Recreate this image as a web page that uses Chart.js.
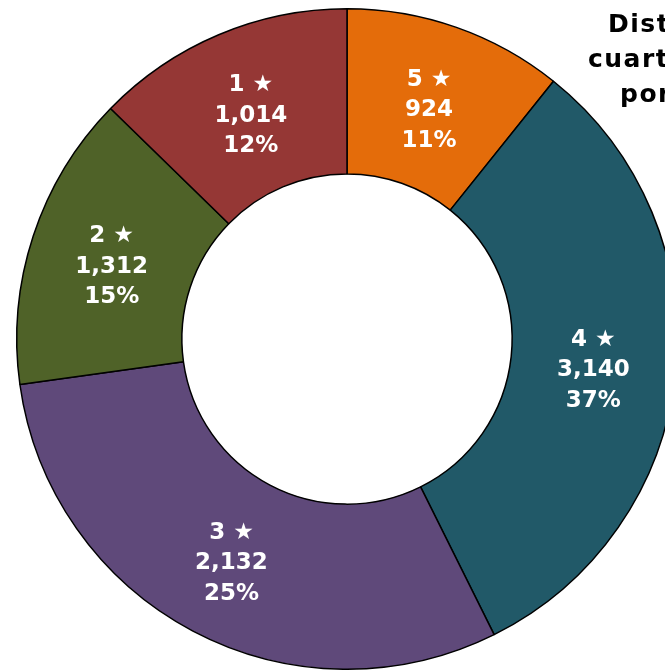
<!DOCTYPE html>
<html>
<head>
<meta charset="utf-8">
<script src="https://cdn.jsdelivr.net/npm/chart.js@4/dist/chart.umd.min.js"></script>
<style>
  html, body { margin: 0; padding: 0; background: #ffffff; overflow: hidden; width: 665px; height: 671px; }
  #wrap { position: absolute; left: 0; top: 0; width: 800px; height: 680px; }
</style>
</head>
<body>
<div id="wrap"><canvas id="c" width="800" height="680"></canvas></div>
<script>
// Data
const categories = ['5 ★', '4 ★', '3 ★', '2 ★', '1 ★'];
const rooms = [924, 3140, 2132, 1312, 1014];
// share of the ring each slice occupies as drawn in the picture (percent)
const drawnShare = [10.75, 31.9, 30.15, 14.5, 12.7];
const titleLines = ['Distribución de', 'cuartos de hoteles', 'por categoría'];

// Styles
const colors = ['#E46C0A', '#215968', '#5F497A', '#4F6228', '#953735'];
const titleStarts = [608, 588, 620];
const titleBaselines = [32, 67, 102];

const total = rooms.reduce((a, b) => a + b, 0);
const fmt = n => n.toLocaleString('en-US');

const labelPlugin = {
  id: 'sliceLabels',
  afterDatasetsDraw(chart) {
    const ctx = chart.ctx;
    const meta = chart.getDatasetMeta(0);
    ctx.save();
    ctx.fillStyle = '#ffffff';
    ctx.font = 'bold 23px "DejaVu Sans", Verdana, sans-serif';
    ctx.textAlign = 'center';
    ctx.textBaseline = 'middle';
    meta.data.forEach((arc, i) => {
      const p = arc.getCenterPoint();
      const lines = [categories[i], fmt(rooms[i]), Math.round(rooms[i] / total * 100) + '%'];
      lines.forEach((t, k) => ctx.fillText(t, p.x, p.y + 5 + (k - 1) * 30.5));
    });
    ctx.restore();
  }
};

const titlePlugin = {
  id: 'sideTitle',
  afterDraw(chart) {
    const ctx = chart.ctx;
    ctx.save();
    ctx.fillStyle = '#000000';
    ctx.font = 'bold 25px "DejaVu Sans", Verdana, sans-serif';
    if ('letterSpacing' in ctx) ctx.letterSpacing = '1.5px';
    ctx.textAlign = 'left';
    ctx.textBaseline = 'alphabetic';
    titleLines.forEach((t, k) => ctx.fillText(t, titleStarts[k], titleBaselines[k]));
    ctx.restore();
  }
};

new Chart(document.getElementById('c'), {
  type: 'doughnut',
  data: {
    labels: categories,
    datasets: [{
      data: drawnShare,
      backgroundColor: colors,
      borderColor: '#000000',
      borderWidth: 1.5,
      hoverOffset: 0
    }]
  },
  options: {
    responsive: false,
    animation: false,
    cutout: '50%',
    rotation: 0,
    layout: { padding: { left: 16, top: 8, right: 122, bottom: 10 } },
    plugins: {
      legend: { display: false },
      tooltip: { enabled: false },
      title: { display: false }
    }
  },
  plugins: [labelPlugin, titlePlugin]
});
</script>
</body>
</html>
